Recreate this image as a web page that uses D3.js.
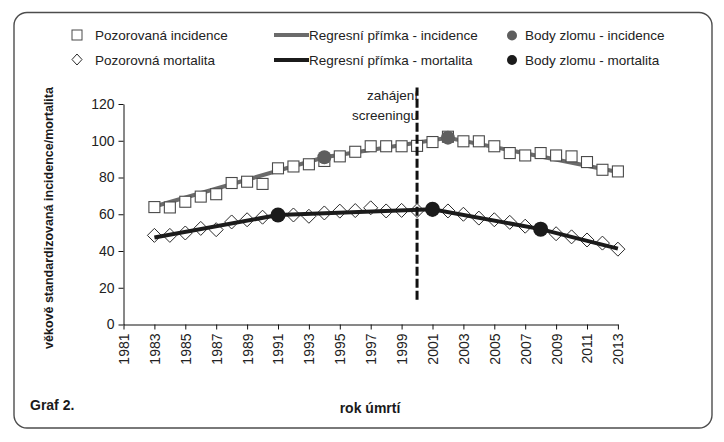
<!DOCTYPE html>
<html><head><meta charset="utf-8">
<script src="https://cdn.jsdelivr.net/npm/d3@7"></script>
<style>body{margin:0;background:#fff}svg{display:block;font-family:"Liberation Sans",Arial,sans-serif}</style>
</head><body>
<svg id="c" width="724" height="442"></svg>
<script>
const years = [1983,1984,1985,1986,1987,1988,1989,1990,1991,1992,1993,1994,1995,1996,1997,1998,1999,2000,2001,2002,2003,2004,2005,2006,2007,2008,2009,2010,2011,2012,2013];
const incidence = [63.9,63.7,66.8,69.6,70.9,77,77.7,76.5,85,86,87.2,89,91.5,94,97,97,97,97.2,99.3,102.2,99.7,99.7,97,93.3,92,93.3,92,91.5,88.4,84.2,83.3];
const mortality = [48.5,48.5,49.8,52.3,51.6,55.8,57,58.4,59.6,59.6,58.9,60.7,61.7,62,63.5,61.8,62.1,62,62.3,61.8,60,57.9,57,55.6,53.5,52,49.4,47.7,46,44.3,41];
const regIncYears = [1983,1994,2002,2013];
const regIncVals = [64.2,91,101.6,83];
const regMortYears = [1983,1991,2001,2008,2013];
const regMortVals = [47.3,59.6,62.7,51.9,41.3];
const bpIncYears = [1994,2002];
const bpIncVals = [91,101.7];
const bpMortYears = [1991,2001,2008];
const bpMortVals = [59.6,62.7,51.9];
const xTicks = [1981,1983,1985,1987,1989,1991,1993,1995,1997,1999,2001,2003,2005,2007,2009,2011,2013];
const yTicks = [0,20,40,60,80,100,120];
const screeningYear = 2000;
const screeningRange = [13.5,129];

const svg = d3.select("#c");
const x = d3.scaleLinear().domain([1981,2013]).range([123.5,617.9]);
const y = d3.scaleLinear().domain([0,120]).range([324.5,104]);
const GRAY = "#6b6b6b", BLACK = "#1b1b1b";

// frame
svg.append("rect").attr("x",14).attr("y",12.5).attr("width",698).attr("height",415.5)
  .attr("rx",13).attr("fill","none").attr("stroke","#4d4d4d").attr("stroke-width",1.4);

// axes
const yAxis = svg.append("g").attr("transform","translate(123.5,0)")
  .call(d3.axisLeft(y).tickValues(yTicks).tickSize(5).tickSizeOuter(0).tickPadding(4));
yAxis.selectAll("text").attr("font-size",14).attr("fill","#222").style("font-family","'Liberation Sans',Arial,sans-serif");
yAxis.selectAll("line,path").attr("stroke","#111");

const xAxis = svg.append("g").attr("transform","translate(0,324.5)")
  .call(d3.axisBottom(x).tickValues(xTicks).tickFormat(d3.format("d")).tickSize(5).tickSizeOuter(0));
xAxis.selectAll("text").attr("font-size",14).attr("fill","#222")
  .attr("transform","rotate(-90)").attr("text-anchor","end")
  .attr("x",-9).attr("y",0).attr("dy","0.35em").style("font-family","'Liberation Sans',Arial,sans-serif");
xAxis.selectAll("line,path").attr("stroke","#111");

// axis titles
svg.append("text").attr("transform","translate(53,218) rotate(-90)").attr("text-anchor","middle")
  .attr("font-size",12.5).attr("font-weight","bold").attr("fill","#1a1a1a")
  .text("věkově standardizovaná incidence/mortalita");
svg.append("text").attr("x",370).attr("y",413).attr("text-anchor","middle")
  .style("font-family","'Liberation Sans Narrow','Arial Narrow',sans-serif")
  .attr("font-size",14).attr("font-weight","bold").attr("fill","#1a1a1a").text("rok úmrtí");
svg.append("text").attr("x",30).attr("y",410)
  .style("font-family","'Liberation Sans Narrow','Arial Narrow',sans-serif")
  .attr("font-size",14).attr("font-weight","bold").attr("fill","#1a1a1a").text("Graf 2.");

// screening label
svg.append("text").attr("x",418).attr("y",100).attr("text-anchor","end").attr("font-size",13.5).attr("fill","#222").text("zahájení");
svg.append("text").attr("x",418).attr("y",120).attr("text-anchor","end").attr("font-size",13.5).attr("fill","#222").text("screeningu");

const line = d3.line().x(d=>x(d[0])).y(d=>y(d[1]));

// incidence regression
svg.append("path").datum(regIncYears.map((yr,i)=>[yr,regIncVals[i]]))
  .attr("d",line).attr("fill","none").attr("stroke",GRAY).attr("stroke-width",4);

// squares
svg.append("g").selectAll("rect").data(years.map((yr,i)=>[yr,incidence[i]])).join("rect")
  .attr("x",d=>x(d[0])-5.5).attr("y",d=>y(d[1])-5.5).attr("width",11).attr("height",11)
  .attr("fill","#fff").attr("stroke","#4a4a4a").attr("stroke-width",1.1);

// diamonds
svg.append("g").selectAll("path").data(years.map((yr,i)=>[yr,mortality[i]])).join("path")
  .attr("d",d=>{const cx=x(d[0]),cy=y(d[1]),r=7;return `M${cx},${cy-r}L${cx+r},${cy}L${cx},${cy+r}L${cx-r},${cy}Z`;})
  .attr("fill","#fff").attr("stroke","#2a2a2a").attr("stroke-width",1);

// mortality regression
svg.append("path").datum(regMortYears.map((yr,i)=>[yr,regMortVals[i]]))
  .attr("d",line).attr("fill","none").attr("stroke",BLACK).attr("stroke-width",4);

// breakpoints
svg.append("g").selectAll("circle").data(bpIncYears.map((yr,i)=>[yr,bpIncVals[i]])).join("circle")
  .attr("cx",d=>x(d[0])).attr("cy",d=>y(d[1])).attr("r",7).attr("fill","#5e5e5e");
svg.append("g").selectAll("circle").data(bpMortYears.map((yr,i)=>[yr,bpMortVals[i]])).join("circle")
  .attr("cx",d=>x(d[0])).attr("cy",d=>y(d[1])).attr("r",7.5).attr("fill",BLACK);

// screening dashed line
svg.append("line").attr("x1",x(screeningYear)).attr("x2",x(screeningYear))
  .attr("y1",y(screeningRange[0])).attr("y2",y(screeningRange[1]))
  .attr("stroke","#111").attr("stroke-width",3).attr("stroke-dasharray","9,3");

// legend
const lg = svg.append("g");
lg.append("rect").attr("x",72).attr("y",30).attr("width",10).attr("height",10).attr("fill","#fff").attr("stroke","#4a4a4a");
lg.append("path").attr("d","M77,54L82,59.5L77,65L72,59.5Z").attr("fill","#fff").attr("stroke","#2a2a2a");
lg.append("line").attr("x1",274).attr("x2",309).attr("y1",35).attr("y2",35).attr("stroke",GRAY).attr("stroke-width",4);
lg.append("line").attr("x1",274).attr("x2",309).attr("y1",60).attr("y2",60).attr("stroke",BLACK).attr("stroke-width",4);
lg.append("circle").attr("cx",512).attr("cy",35.5).attr("r",5).attr("fill","#5e5e5e");
lg.append("circle").attr("cx",512).attr("cy",60).attr("r",5).attr("fill",BLACK);
const lt = [[95,40,"Pozorovaná incidence"],[95,65,"Pozorovná mortalita"],[309,40,"Regresní přímka - incidence"],[309,65,"Regresní přímka - mortalita"],[525,40,"Body zlomu - incidence"],[525,65,"Body zlomu - mortalita"]];
lg.selectAll("text").data(lt).join("text").attr("x",d=>d[0]).attr("y",d=>d[1])
  .attr("font-size",13.5).attr("fill","#222").text(d=>d[2]);
</script>
</body></html>
